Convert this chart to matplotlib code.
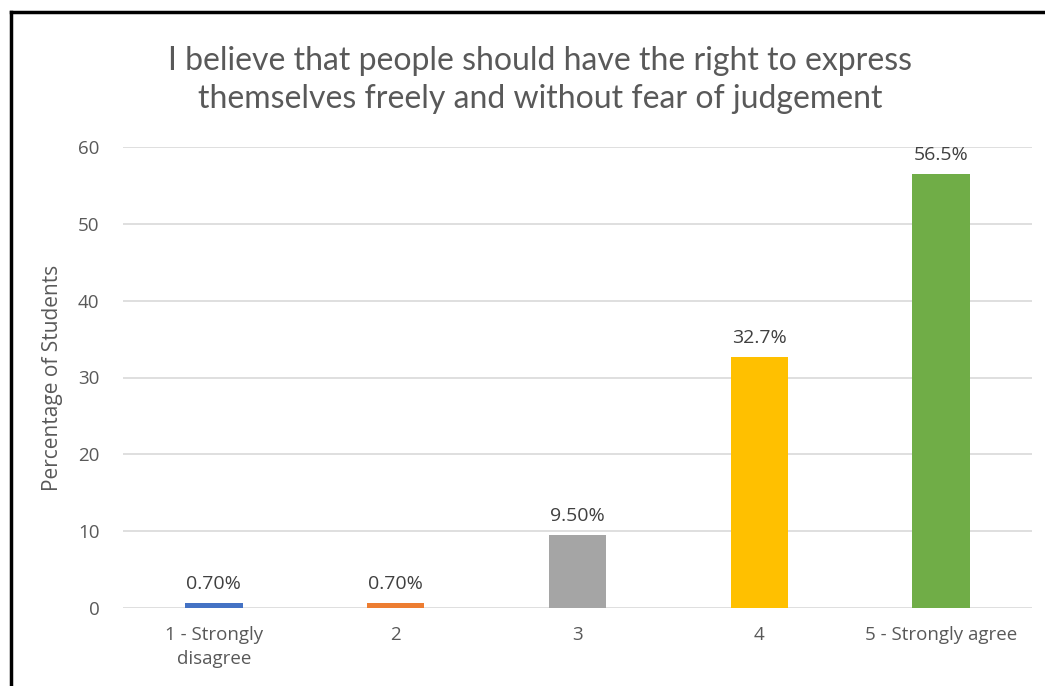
# Bar chart of survey responses, percentage of students per rating
import numpy as np
import matplotlib.pyplot as plt
from matplotlib.lines import Line2D

plt.rcParams['font.family'] = ['Open Sans', 'DejaVu Sans']

# data
categories = ['1 - Strongly\ndisagree', '2', '3', '4', '5 - Strongly agree']
percents   = [0.7, 0.7, 9.5, 32.7, 56.5]
bar_labels = ['0.70%', '0.70%', '9.50%', '32.7%', '56.5%']
colors     = ['#4472C4', '#ED7D31', '#A5A5A5', '#FFC000', '#70AD47']
yticks     = [0, 10, 20, 30, 40, 50, 60]
title      = ('I believe that people should have the right to express\n'
              'themselves freely and without fear of judgement')

text_grey  = '#595959'
grid_grey  = '#D9D9D9'

fig = plt.figure(figsize=(10.45, 6.86), dpi=100)
ax  = fig.add_axes([123/1045, 1 - 608/686, 909/1045, 461/686])

x = np.arange(len(categories))
bars = ax.bar(x, percents, width=0.315, color=colors, zorder=3)

# data labels above each bar
for b, lab in zip(bars, bar_labels):
    ax.annotate(lab, (b.get_x() + b.get_width()/2, b.get_height()),
                xytext=(0, 7), textcoords='offset points',
                ha='center', va='bottom', fontsize=14, color='#404040')

# axes
ax.set_xlim(-0.5, len(categories) - 0.5)
ax.set_ylim(0, 60)
ax.set_yticks(yticks)
ax.set_xticks(x)
ax.set_xticklabels(categories, linespacing=1.45)
ax.tick_params(axis='both', length=0, labelsize=13.5, colors=text_grey)
ax.tick_params(axis='y', pad=17)
ax.tick_params(axis='x', pad=13)
ax.grid(axis='y', color=grid_grey, linewidth=1.2, zorder=0)
for s in ax.spines.values():
    s.set_visible(False)
ax.set_ylabel('Percentage of Students', fontsize=15, color=text_grey,
              labelpad=11)

fig.text(540/1045, 1 - 80/686, title, ha='center', va='center',
         family=['Lato', 'DejaVu Sans'],
         fontsize=23, color=text_grey, linespacing=1.35)

# black frame on left and top edge
fig.add_artist(Line2D([11/1045, 11/1045], [0, 1 - 12/686],
                      color='black', linewidth=2.5, transform=fig.transFigure))
fig.add_artist(Line2D([11/1045, 1], [1 - 12/686, 1 - 12/686],
                      color='black', linewidth=2.5, transform=fig.transFigure))

fig.savefig('out.png', dpi=100)
